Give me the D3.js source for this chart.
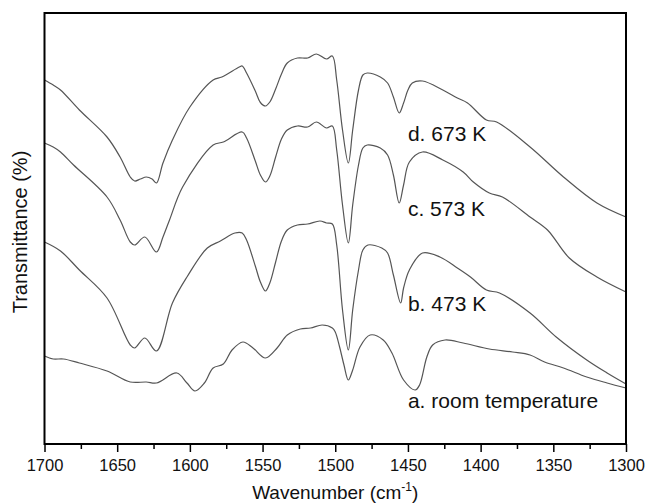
<!DOCTYPE html>
<html>
<head>
<meta charset="utf-8">
<script src="https://cdn.jsdelivr.net/npm/d3@7"></script>
<style>
  body { margin: 0; background: #fff; }
  text { font-family: "Liberation Sans", Arial, sans-serif; fill: #111; }
</style>
</head>
<body>
<div id="chart"></div>
<script>
// wavenumber (cm-1) / transmittance (a.u.) pairs
var curveD = [
  [1700, 72.8], [1694, 71.8], [1689, 70.8], [1676, 66.8], [1657, 61.4], [1648, 57.4],
  [1641, 53.4], [1638, 52.6], [1634, 53.0], [1630, 53.4], [1626, 53.0], [1623, 52.2],
  [1618.5, 56.2], [1612, 60.8], [1600, 67.4], [1584, 72.8], [1578, 73.4], [1566, 75.4],
  [1564, 75.6], [1561, 74.2], [1555, 70.6], [1551.5, 68.3], [1548, 67.6], [1545, 68.4],
  [1541, 71.0], [1537, 74.0], [1533, 76.2], [1526, 77.2], [1519, 77.2], [1513, 78.0],
  [1506, 77.0], [1502, 77.6], [1499, 72.8], [1495, 62.8], [1491, 56.2], [1488, 62.8],
  [1484, 70.8], [1481, 73.8], [1478, 74.2], [1469, 73.4], [1464, 72.2], [1460, 69.4],
  [1456, 66.2], [1453, 68.2], [1450, 70.8], [1447, 72.2], [1440, 72.6], [1426, 70.8],
  [1416, 69.2], [1409, 68.2], [1396, 64.8], [1389, 64.4], [1366, 59.4], [1343, 53.4],
  [1320, 48.2], [1300, 45.4]
];
var curveC = [
  [1700, 60.2], [1694, 59.4], [1689, 58.4], [1680, 55.8], [1657, 49.4], [1648, 44.8],
  [1641, 40.4], [1638, 39.8], [1631, 41.4], [1623, 38.4], [1618.5, 41.4], [1614, 44.8],
  [1605, 51.4], [1584, 59.8], [1577, 60.4], [1564, 62.4], [1561, 61.2], [1555, 56.6],
  [1551.5, 53.8], [1548, 52.4], [1545, 53.6], [1541, 57.4], [1537, 61.0], [1533, 62.8],
  [1526, 63.6], [1519, 63.4], [1513, 64.4], [1506, 63.2], [1502, 63.6], [1499, 58.8],
  [1495, 47.8], [1491, 40.2], [1488, 47.8], [1484, 55.8], [1481, 59.2], [1478, 59.8],
  [1469, 59.2], [1464, 57.8], [1460, 53.8], [1456, 48.2], [1453, 51.8], [1449, 56.4],
  [1440, 58.4], [1426, 56.8], [1412, 54.4], [1405, 52.4], [1394, 50.2], [1385, 49.4],
  [1366, 45.4], [1354, 42.8], [1339, 37.2], [1320, 33.4], [1300, 30.4]
];
var curveB = [
  [1700, 40.4], [1689, 38.6], [1676, 34.8], [1657, 29.2], [1641, 19.8], [1638, 19.2],
  [1631, 21.2], [1623, 18.6], [1612, 28.2], [1602, 33.4], [1588, 39.2], [1579, 40.6],
  [1569, 42.2], [1564, 42.2], [1561, 40.8], [1555, 35.6], [1551.5, 32.4], [1548, 30.6],
  [1545, 32.2], [1541, 36.4], [1537, 40.6], [1533, 42.8], [1526, 43.8], [1519, 44.0],
  [1510.5, 44.6], [1506, 44.2], [1502, 44.0], [1499, 39.8], [1495, 26.8], [1491, 18.8],
  [1488, 26.8], [1484, 34.8], [1481, 38.8], [1477.5, 39.8], [1468, 39.2], [1464, 38.2],
  [1460, 33.8], [1455, 28.2], [1453, 31.2], [1449, 34.8], [1440, 38.2], [1428, 37.4],
  [1416, 35.2], [1407, 33.4], [1396, 30.8], [1387, 30.2], [1366, 26.2], [1348, 21.4],
  [1327, 16.8], [1313, 14.2], [1300, 12.0]
];
var curveA = [
  [1700, 17.6], [1694, 17.0], [1687, 17.0], [1676, 16.2], [1657, 14.6], [1641, 12.4],
  [1630, 12.4], [1623, 12.2], [1609, 14.2], [1602, 12.2], [1596.5, 10.6], [1590, 12.2],
  [1584, 15.2], [1577, 16.0], [1571, 18.8], [1563.5, 20.4], [1556.6, 19.2], [1548, 17.2],
  [1540, 19.2], [1533, 21.8], [1524, 23.0], [1517, 23.2], [1509, 23.8], [1502, 23.2],
  [1500, 22.4], [1497, 19.4], [1494, 15.8], [1491, 12.8], [1488, 14.8], [1483, 19.4],
  [1476, 21.8], [1467, 20.8], [1461, 18.2], [1453, 12.8], [1445, 10.8], [1442, 11.8],
  [1437, 17.4], [1433, 19.8], [1424.5, 20.8], [1412, 20.2], [1394, 19.0], [1378, 18.4],
  [1366, 17.8], [1356, 16.4], [1343, 15.2], [1327, 13.4], [1313, 12.2], [1300, 11.2]
];

var seriesLabels = ["d. 673 K", "c. 573 K", "b. 473 K", "a. room temperature"];
// where each label sits: [wavenumber, transmittance] of its baseline start
var labelAnchors = [[1450, 60.6], [1450, 45.6], [1450, 26.6], [1450, 7.2]];

var majorTicks = [1700, 1650, 1600, 1550, 1500, 1450, 1400, 1350, 1300];
var minorTicks = [1675, 1625, 1575, 1525, 1475, 1425, 1375, 1325];

window.onload = function () {

    var W = 647, H = 504;
    var left = 44.5, right = 626, top = 13, bottom = 444;

    var svg = d3.select("#chart").append("svg")
        .attr("width", W)
        .attr("height", H);

    var x = d3.scaleLinear().domain([1700, 1300]).range([left, right]);
    var y = d3.scaleLinear().domain([0, 86.2]).range([bottom, top]);

    var line = d3.line()
        .x(function (d) { return x(d[0]); })
        .y(function (d) { return y(d[1]); })
        .curve(d3.curveCatmullRom.alpha(0.5));

    //spectra
    svg.selectAll("path.spec")
        .data([curveD, curveC, curveB, curveA])
        .enter().append("path")
        .attr("class", "spec")
        .attr("d", line)
        .attr("fill", "none")
        .attr("stroke", "#555")
        .attr("stroke-width", 1.2);

    //labels
    svg.selectAll("text.lab")
        .data(seriesLabels)
        .enter().append("text")
        .attr("class", "lab")
        .attr("x", function (d, i) { return x(labelAnchors[i][0]); })
        .attr("y", function (d, i) { return y(labelAnchors[i][1]); })
        .attr("font-size", "21px")
        .text(function (d) { return d; });

    //minor ticks
    svg.append("g")
        .attr("transform", "translate(0," + bottom + ")")
        .call(d3.axisBottom(x).tickValues(minorTicks).tickSize(5).tickSizeOuter(0).tickFormat(""))
        .call(function (g) { g.select(".domain").remove(); })
        .selectAll("line").attr("stroke", "#000").attr("stroke-width", 1.5);

    //major ticks + labels
    var gx = svg.append("g")
        .attr("transform", "translate(0," + bottom + ")")
        .call(d3.axisBottom(x).tickValues(majorTicks).tickSize(8).tickSizeOuter(0).tickPadding(7).tickFormat(d3.format("d")));
    gx.select(".domain").remove();
    gx.selectAll("line").attr("stroke", "#000").attr("stroke-width", 1.5);
    gx.selectAll("text")
        .attr("font-size", "16.5px")
        .attr("font-family", "Liberation Sans, Arial, sans-serif")
        .attr("fill", "#111");

    //frame
    svg.append("rect")
        .attr("x", left)
        .attr("y", top)
        .attr("width", right - left)
        .attr("height", bottom - top)
        .attr("fill", "none")
        .attr("stroke", "#000")
        .attr("stroke-width", 2);

    //axis titles
    var xt = svg.append("text")
        .attr("x", (left + right) / 2)
        .attr("y", 499)
        .attr("text-anchor", "middle")
        .attr("font-size", "19px");
    xt.append("tspan").text("Wavenumber (cm");
    xt.append("tspan").attr("font-size", "12px").attr("dy", "-8").text("-1");
    xt.append("tspan").attr("dy", "8").text(")");

    svg.append("text")
        .attr("transform", "translate(27,232) rotate(-90)")
        .attr("text-anchor", "middle")
        .attr("font-size", "20px")
        .text("Transmittance (%)");
};
</script>
</body>
</html>
